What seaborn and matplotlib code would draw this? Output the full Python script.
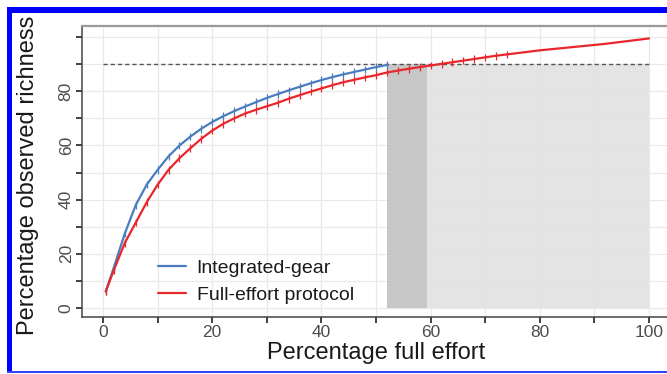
import numpy as np
import pandas as pd
import matplotlib
matplotlib.use("Agg")
import matplotlib.pyplot as plt
from matplotlib.patches import Rectangle
from matplotlib.lines import Line2D
import seaborn as sns

# ---- data ----
x_gear = [0.5, 2, 4, 6, 8, 10, 12, 14, 16, 18, 20, 22, 24, 26, 28, 30, 32, 34,
          36, 38, 40, 42, 44, 46, 48, 50, 52]
y_gear = [6, 15, 27.5, 38, 45.5, 51, 56, 60, 63.3, 66.2, 68.7, 70.8, 72.7, 74.4,
          76, 77.6, 79, 80.4, 81.7, 83, 84.2, 85.3, 86.3, 87.2, 88.1, 89, 89.8]

x_full = [0.5, 2, 4, 6, 8, 10, 12, 14, 16, 18, 20, 22, 24, 26, 28, 30, 32, 34,
          36, 38, 40, 42, 44, 46, 48, 50, 52, 54, 56, 58, 60, 62, 64, 66, 68,
          70, 72, 74, 76, 78, 80, 82, 84, 86, 88, 90, 92, 94, 96, 98, 100]
y_full = [6, 14, 24, 31.5, 39, 45.5, 51, 55.3, 59, 62.5, 65.5, 68, 70, 71.8,
          73.2, 74.5, 75.8, 77.3, 78.6, 79.9, 81.1, 82.3, 83.4, 84.3, 85.2, 86,
          87, 87.7, 88.4, 89, 89.6, 90.2, 90.8, 91.4, 92, 92.6, 93.2, 93.7, 94.2,
          94.7, 95.2, 95.6, 96, 96.4, 96.8, 97.2, 97.6, 98.1, 98.6, 99.1, 99.6]

series_names = ["Integrated-gear", "Full-effort protocol"]
series_colors = ["#4a7dc0", "#e8262b"]
threshold = 90
gear_reach = 52.0
full_reach = 59.3
x_end = 100
x_ticks = [0, 10, 20, 30, 40, 50, 60, 70, 80, 90, 100]
x_labels = ["0", "", "20", "", "40", "", "60", "", "80", "", "100"]
y_ticks = [0, 10, 20, 30, 40, 50, 60, 70, 80, 90, 100]
y_labels = ["0", "", "20", "", "40", "", "60", "", "80", "", ""]

df = pd.concat([
    pd.DataFrame({"effort": x_gear, "richness": y_gear, "series": series_names[0]}),
    pd.DataFrame({"effort": x_full, "richness": y_full, "series": series_names[1]}),
])
marks = df[df["effort"] <= 74]

# ---- figure ----
sns.set_theme(style="white")
plt.rcParams["font.family"] = ["Liberation Sans", "DejaVu Sans"]

W, H = 667, 374
fig = plt.figure(figsize=(W / 100, H / 100), dpi=100)
fig.patch.set_facecolor("white")

# axes placement in pixels
ax_left, ax_top, ax_bottom = 82, 26, 317
xlo, xhi = -3.85, 105
ylo, yhi = -3.44, 104.2
px_per_x = 5.46
ax_w = (xhi - xlo) * px_per_x
ax_h = ax_bottom - ax_top
ax = fig.add_axes([ax_left / W, (H - ax_bottom) / H, ax_w / W, ax_h / H])
ax.set_xlim(xlo, xhi)
ax.set_ylim(ylo, yhi)

# grid
for v in x_ticks:
    ax.axvline(v, color="#e9e9e9", lw=0.9, zorder=0)
for v in y_ticks:
    ax.axhline(v, color="#e9e9e9", lw=0.9, zorder=0)

# shaded regions
ax.fill_between([gear_reach, full_reach], 0, threshold, color="#c4c4c4", lw=0, zorder=1, alpha=0.95)
ax.fill_between([full_reach, x_end], 0, threshold, color="#e2e2e2", lw=0, zorder=1, alpha=0.9)

# threshold line
ax.plot([0, x_end], [threshold, threshold], color="#555555", lw=1.0,
        dashes=(3, 2.2), zorder=2)

pal = dict(zip(series_names, series_colors))
sns.lineplot(data=df, x="effort", y="richness", hue="series", palette=pal,
             ax=ax, lw=1.6, legend=False, zorder=3, sort=False)
sns.scatterplot(data=marks, x="effort", y="richness", hue="series", palette=pal,
                ax=ax, marker="|", s=30, linewidth=0.9, legend=False, zorder=4)

# axes styling
ax.set_xticks(x_ticks)
ax.set_xticklabels(x_labels)
ax.set_yticks(y_ticks)
ax.set_yticklabels(y_labels, rotation=90, va="center")
ax.tick_params(axis="both", which="major", direction="out", length=4, width=1.3,
               color="#333333", labelsize=12.5, labelcolor="#4d4d4d", pad=2,
               bottom=True, left=True)
for s in ["left", "bottom"]:
    ax.spines[s].set_color("#444444")
    ax.spines[s].set_linewidth(1.1)
ax.spines["top"].set_color("#9a9a9a")
ax.spines["top"].set_linewidth(1.6)
ax.spines["right"].set_visible(False)

ax.set_xlabel("Percentage full effort", fontsize=17, color="#1a1a1a")
ax.set_ylabel("Percentage observed richness", fontsize=17, color="#1a1a1a")
ax.xaxis.set_label_coords((376 - ax_left) / ax_w, -(342 - ax_bottom) / ax_h)
ax.yaxis.set_label_coords(-(ax_left - 39) / ax_w, (ax_bottom - 175) / ax_h)

handles = [Line2D([], [], color=c, lw=1.6) for c in series_colors]
leg = ax.legend(handles, series_names, loc="lower left", frameon=False,
                fontsize=14, handlelength=1.45, handletextpad=0.55,
                labelspacing=0.5, borderpad=0,
                bbox_to_anchor=((148 - ax_left) / ax_w, (ax_bottom - 314) / ax_h))
for t in leg.get_texts():
    t.set_color("#1a1a1a")

# blue frame of the original image
blue = "#0000ff"
fig.add_artist(Rectangle((7.3 / W, (H - 12.7) / H), 1, 5.4 / H, transform=fig.transFigure,
                         color=blue, lw=0, zorder=10))
fig.add_artist(Rectangle((7.3 / W, (H - 372.5) / H), 5.0 / W, (372.5 - 7.3) / H,
                         transform=fig.transFigure, color=blue, lw=0, zorder=10))
fig.add_artist(Rectangle((7.3 / W, (H - 372.5) / H), 1, 1.5 / H, transform=fig.transFigure,
                         color="#3344ff", lw=0, zorder=10))

fig.savefig("out.png", dpi=100, facecolor="white")
